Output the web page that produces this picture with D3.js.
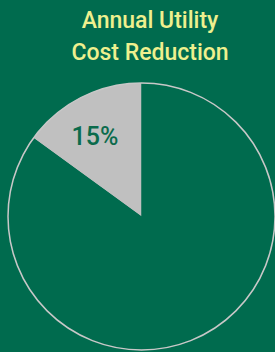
<!DOCTYPE html>
<html>
<head>
<meta charset="utf-8">
<script src="https://cdn.jsdelivr.net/npm/d3@7"></script>
<style>
  body { margin: 0; background: #006b4e; overflow: hidden; }
  text { font-family: "Roboto", sans-serif; font-weight: 500; }
</style>
</head>
<body>
<div id="chart"></div>
<script>
const W = 275, H = 352;

// Data
const titleLines = ["Annual Utility", "Cost Reduction"];
const sliceNames = ["Reduction", "Remaining"];
const sliceValues = [15, 85];
const sliceColors = ["#c0c0c0", "#006b4e"];

const svg = d3.select("#chart")
  .append("svg")
  .attr("width", W)
  .attr("height", H);

svg.append("rect")
  .attr("width", W).attr("height", H)
  .attr("fill", "#006b4e");

// Title
svg.append("g")
  .selectAll("text")
  .data(titleLines)
  .enter().append("text")
  .attr("x", 150)
  .attr("y", (d, i) => 28 + i * 32)
  .attr("text-anchor", "middle")
  .attr("fill", "#eef08e")
  .style("font-size", "23px")
  .text(d => d);

// Pie
const cx = 141.5, cy = 216.5, r = 133.5;

// counter-clockwise from 12 o'clock: first slice goes left
const pie = d3.pie().sort(null)
  .startAngle(0).endAngle(-2 * Math.PI)
  .value(d => d);

const arcs = pie(sliceValues);
const arc = d3.arc().innerRadius(0).outerRadius(r);

const g = svg.append("g")
  .attr("transform", "translate(" + cx + "," + cy + ")");

g.selectAll("path")
  .data(arcs)
  .enter().append("path")
  .attr("d", arc)
  .attr("fill", (d, i) => sliceColors[i])
  .attr("stroke", "none");

// outline circle
g.append("circle")
  .attr("r", r)
  .attr("fill", "none")
  .attr("stroke", "#c8c8c8")
  .attr("stroke-width", 1.5);

// label on the small slice
const labelArc = d3.arc().innerRadius(r * 0.62).outerRadius(r * 0.62);
const c = labelArc.centroid(arcs[0]);
g.append("text")
  .attr("x", c[0] - 9)
  .attr("y", c[1] - 6)
  .attr("text-anchor", "middle")
  .attr("dominant-baseline", "central")
  .attr("fill", "#0b6b4c")
  .style("font-size", "25px")
  .text(sliceValues[0] + "%");
</script>
</body>
</html>
